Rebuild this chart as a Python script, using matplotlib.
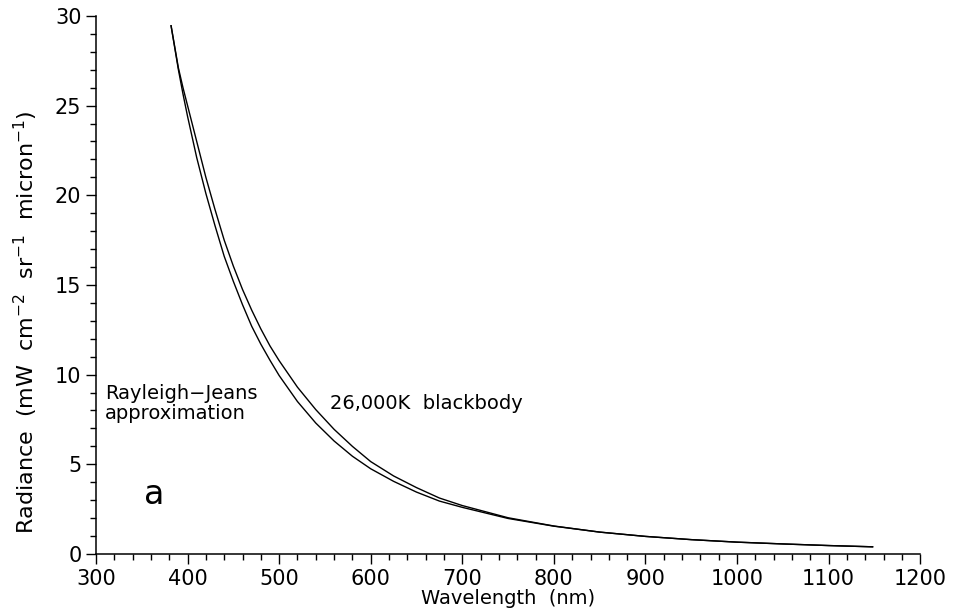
import matplotlib
matplotlib.use("Agg")
import matplotlib.pyplot as plt
from matplotlib.ticker import MultipleLocator

# wavelength (nm) and radiance
rj_wl = [382, 390, 395, 400, 410, 420, 430, 440, 450, 460, 470, 480, 490, 500,
         520, 540, 560, 580, 600, 625, 650, 675, 700, 750, 800, 850, 900, 950,
         1000, 1050, 1100, 1148]
rj_val = [29.45, 27.0, 25.65, 24.4, 22.1, 20.1, 18.3, 16.6, 15.2, 13.9, 12.7, 11.7,
          10.8, 9.95, 8.5, 7.3, 6.3, 5.45, 4.75, 4.05, 3.45, 2.95, 2.6, 1.98, 1.55,
          1.22, 0.98, 0.8, 0.66, 0.56, 0.47, 0.40]

bb_wl = [382, 390, 395, 400, 410, 420, 430, 440, 450, 460, 470, 480, 490, 500,
         520, 540, 560, 580, 600, 625, 650, 675, 700, 750, 800, 850, 900, 950,
         1000, 1050, 1100, 1148]
bb_val = [29.45, 27.1, 26.0, 25.0, 23.0, 21.0, 19.2, 17.5, 16.05, 14.75, 13.6, 12.55,
          11.6, 10.78, 9.3, 8.05, 6.95, 6.0, 5.15, 4.35, 3.7, 3.12, 2.7, 2.02, 1.56,
          1.22, 0.98, 0.8, 0.66, 0.56, 0.47, 0.40]

plt.rcParams['font.family'] = ['DejaVu Sans']

fig = plt.figure(figsize=(9.54, 6.12), dpi=100)
ax = fig.add_axes([0.1006, 0.0948, 0.864, 0.8792])

ax.plot(rj_wl, rj_val, color='black', lw=1.0)
ax.plot(bb_wl, bb_val, color='black', lw=1.0)

ax.set_xlim(300, 1200)
ax.set_ylim(0, 30)
ax.spines['top'].set_visible(False)
ax.spines['right'].set_visible(False)
ax.spines['left'].set_linewidth(1.1)
ax.spines['bottom'].set_linewidth(1.1)

ax.xaxis.set_major_locator(MultipleLocator(100))
ax.xaxis.set_minor_locator(MultipleLocator(20))
ax.yaxis.set_major_locator(MultipleLocator(5))
ax.yaxis.set_minor_locator(MultipleLocator(1))
ax.tick_params(which='major', length=7.5, width=1.0, labelsize=15, pad=3)
ax.tick_params(which='minor', length=4.5, width=1.0)

ax.set_xlabel('Wavelength  (nm)', fontsize=14, labelpad=0)
ax.set_ylabel(r'Radiance  (mW  cm$^{-2}$  sr$^{-1}$  micron$^{-1}$)', fontsize=16)
ax.yaxis.set_label_coords(-0.068, 0.43)

ax.text(310, 8.4, 'Rayleigh\u2212Jeans\napproximation', fontsize=14,
        va='center', ha='left', linespacing=1.05)
ax.text(556, 8.4, '26,000K  blackbody', fontsize=14, va='center', ha='left')
ax.text(352, 3.3, 'a', fontsize=24, va='center', ha='left')

fig.savefig('out.png', dpi=100)
